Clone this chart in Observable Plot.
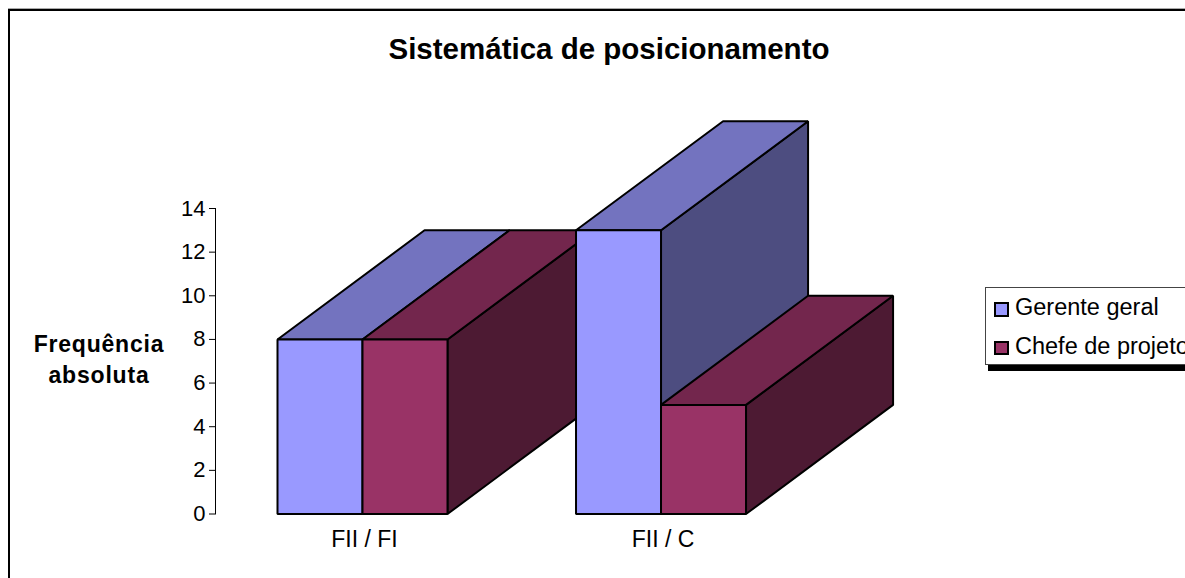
<!DOCTYPE html>
<html><head><meta charset="utf-8">
<script src="https://cdn.jsdelivr.net/npm/d3@7"></script>
<script src="https://cdn.jsdelivr.net/npm/@observablehq/plot@0.6"></script>
<style>
html,body{margin:0;padding:0;width:1185px;height:578px;overflow:hidden;background:#fff;font-family:"Liberation Sans",Arial,sans-serif;color:#000}
#chart{position:absolute;left:0;top:0}
#frame{position:absolute;left:8px;top:9px;width:1400px;height:800px;border:2px solid #000;box-shadow:0 -1px 0 #aaa}
.t{position:absolute;white-space:nowrap}
#title{left:0;width:1218px;text-align:center;top:32px;font-size:29.5px;font-weight:bold}
.yl{font-size:23px;font-weight:bold;width:200px;left:-1px;text-align:center;letter-spacing:.8px}
#legend{position:absolute;left:985px;top:287px;width:400px;height:76px;border:1px solid #444;background:#fff;box-shadow:3px 6px 0 #000}
.sw{position:absolute;left:8px;width:10.5px;height:10.5px;border:2px solid #000}
.li{position:absolute;left:29px;font-size:23.5px;line-height:26px;white-space:nowrap}
</style></head><body>
<div id="frame"></div>
<div id="chart"></div>
<div class="t" id="title"></div>
<div class="t yl" id="yl1" style="top:331px"></div>
<div class="t yl" id="yl2" style="top:362px"></div>
<div id="legend"></div>
<script>
const titleText = "Sistemática de posicionamento";
const yLabelLines = ["Frequência", "absoluta"];
const categories = ["FII / FI", "FII / C"];
const seriesNames = ["Gerente geral", "Chefe de projeto"];
const gerente = [8, 13];
const chefe = [8, 5];
const seriesValues = [gerente, chefe];
const frontColors = ["#9999FF", "#993366"];
const topColors = ["#7373BF", "#73264D"];
const sideColors = ["#4D4D80", "#4D1A33"];
const categoryStep = 3.512;      // one category, in bar widths
const depthX = 1.73, depthY = 5; // depth of the 3D extrusion, in data units

const faces = [];
function addFace(id, fill, corners) {
  for (const [x, y] of corners) faces.push({id, fill, x, y});
}
categories.forEach((c, ci) => {
  seriesValues.forEach((vals, si) => {
    const v = vals[ci];
    const x0 = ci * categoryStep + si, x1 = x0 + 1;
    addFace(`side-${ci}-${si}`, sideColors[si], [[x1,0],[x1+depthX,depthY],[x1+depthX,v+depthY],[x1,v]]);
    addFace(`top-${ci}-${si}`, topColors[si], [[x0,v],[x1,v],[x1+depthX,v+depthY],[x0+depthX,v+depthY]]);
    addFace(`front-${ci}-${si}`, frontColors[si], [[x0,0],[x1,0],[x1,v],[x0,v]]);
  });
});
const catTicks = categories.map((c, i) => i * categoryStep + 1);

const plot = Plot.plot({
  width: 1185, height: 578,
  marginLeft: 215, marginRight: 0, marginTop: 208, marginBottom: 64.5,
  style: {fontFamily: '"Liberation Sans",Arial,sans-serif', background: "transparent", overflow: "visible"},
  x: {domain: [0, 6], range: [277, 787]},
  y: {domain: [0, 14]},
  color: {type: "identity"},
  marks: [
    Plot.frame({anchor: "left", stroke: "#000", strokeWidth: 1, strokeOpacity: 1}),
    Plot.axisY({ticks: d3.range(0, 15, 2), tickSize: 6, tickPadding: 4, fontSize: 22, label: null, color: "#000", strokeOpacity: 1}),
    Plot.axisX({ticks: catTicks, tickFormat: d => categories[catTicks.indexOf(d)], tickSize: 0, tickPadding: 17, fontSize: 23, dx: 2, label: null, color: "#000"}),
    Plot.line(faces, {x: "x", y: "y", z: "id", fill: "fill", stroke: "#000", strokeWidth: 2, strokeLinejoin: "miter", curve: "linear-closed"})
  ]
});
document.getElementById("chart").append(plot);
document.getElementById("title").textContent = titleText;
document.getElementById("yl1").textContent = yLabelLines[0];
document.getElementById("yl2").textContent = yLabelLines[1];
const legend = document.getElementById("legend");
seriesNames.forEach((n, i) => {
  const sw = document.createElement("div");
  sw.className = "sw"; sw.style.background = frontColors[i]; sw.style.top = (14 + i * 38.5) + "px";
  const li = document.createElement("div");
  li.className = "li"; li.textContent = n; li.style.top = (6 + i * 38.5) + "px";
  legend.append(sw, li);
});
</script>
</body></html>
